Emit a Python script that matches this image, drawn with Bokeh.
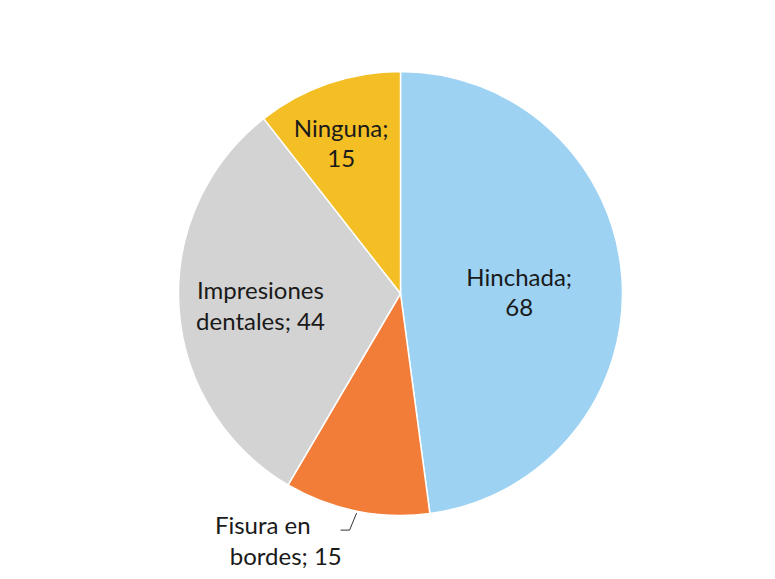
import math
from bokeh.plotting import figure
from bokeh.models import ColumnDataSource
from bokeh.core.properties import value
from bokeh.embed import file_html
from bokeh.resources import INLINE

categories = ["Hinchada", "Fisura en bordes", "Impresiones dentales", "Ninguna"]
values = [68, 15, 44, 15]
label_lines = [["Hinchada;", "68"], ["Fisura en", "bordes; 15"],
               ["Impresiones", "dentales; 44"], ["Ninguna;", "15"]]
colors = ["#9dd2f3", "#f27d38", "#d3d3d3", "#f4be25"]

W, H = 770, 575
cx, cy, R = 400, H - 293, 222

p = figure(width=W, height=H, x_range=(0, W), y_range=(0, H),
           output_backend="svg", toolbar_location=None, min_border=0)
p.axis.visible = False
p.grid.visible = False
p.outline_line_color = None
p.background_fill_color = "white"

total = sum(values)
starts, ends, mids = [], [], []
a = math.pi / 2
for v in values:
    da = 2 * math.pi * v / total
    starts.append(a)
    ends.append(a - da)
    mids.append(a - da / 2)
    a -= da

src = ColumnDataSource(dict(start=starts, end=ends, color=colors))
p.wedge(x=cx, y=cy, radius=R, start_angle="start", end_angle="end",
        direction="clock", fill_color="color", line_color="white",
        line_width=1.5, source=src)

# label radius (fraction of R), nudges (px) and per-line x shifts
label_r = [0.536, 1.133, 0.632, 0.71]
nudge = [(0, -6), (0, 0), (0, -2), (-8, 1)]
line_dx = [[0, 0], [-88, -65], [0, 0], [0, 0]]
font = value("Lato")
lh = 31
for i, lines in enumerate(label_lines):
    m = mids[i]
    lx = cx + R * label_r[i] * math.cos(m) + nudge[i][0]
    ly = cy + R * label_r[i] * math.sin(m) + nudge[i][1]
    n = len(lines)
    for j, t in enumerate(lines):
        yy = ly + (n - 1) * lh / 2 - j * lh
        p.text(x=[lx + line_dx[i][j]], y=[yy], text=[t], text_align="center",
               text_baseline="middle", text_font=font,
               text_font_size="24px", text_color="#1a1a1a")

# leader line for the outside label
m = mids[1]
x0 = cx + R * 1.0 * math.cos(m)
y0 = cy + R * 1.0 * math.sin(m)
p.line(x=[x0, x0 - 7, x0 - 16], y=[y0 - 2, y0 - 19, y0 - 19],
       line_color="#333333", line_width=1)

open("out.html", "w").write(file_html(p, INLINE))
